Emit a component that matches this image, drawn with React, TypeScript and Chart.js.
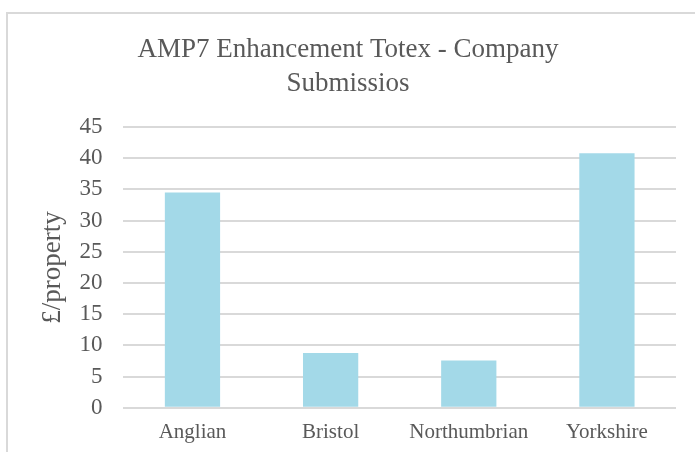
import React, { useEffect, useRef } from "react";
import { Chart, registerables } from "chart.js";

Chart.register(...registerables);

const categories = ["Anglian", "Bristol", "Northumbrian", "Yorkshire"];
const values = [34.5, 8.8, 7.6, 40.8];
const titleLines = ["AMP7 Enhancement Totex - Company", "Submissios"];
const yAxisTitle = "£/property";
const yMin = 0;
const yMax = 45;
const yStep = 5;

const TEXT = "#595959";
const GRID = "#d9d9d9";
const BAR = "rgb(163,217,232)";
const FONT = "'Liberation Serif', 'Times New Roman', serif";

const borderPlugin = {
  id: "outerBorder",
  beforeDraw(chart: any) {
    const ctx = chart.ctx;
    ctx.save();
    ctx.fillStyle = "#ffffff";
    ctx.fillRect(0, 0, chart.width, chart.height);
    ctx.fillStyle = GRID;
    ctx.fillRect(6, 12, chart.width, 2);
    ctx.fillRect(6, 12, 2, chart.height);
    ctx.restore();
  },
};

export default function App() {
  const ref = useRef<HTMLCanvasElement | null>(null);
  useEffect(() => {
    if (!ref.current) return;
    const chart = new Chart(ref.current, {
      type: "bar",
      data: {
        labels: categories,
        datasets: [
          {
            data: values,
            backgroundColor: BAR,
            borderWidth: 0,
            barPercentage: 0.4,
            categoryPercentage: 1,
          },
        ],
      },
      options: {
        animation: false,
        responsive: false,
        devicePixelRatio: 1,
        layout: { padding: { top: 0, left: 20, right: 19, bottom: -5 } },
        plugins: {
          legend: { display: false },
          tooltip: { enabled: false },
          title: {
            display: true,
            text: titleLines,
            color: TEXT,
            font: { family: FONT, size: 27, weight: "normal", lineHeight: 1.26 },
            padding: { top: 33, bottom: 26 },
          },
        },
        scales: {
          x: {
            grid: { display: false, drawTicks: false },
            border: { display: false },
            ticks: {
              color: TEXT,
              font: { family: FONT, size: 21 },
              padding: 12,
              maxRotation: 0,
            },
          },
          y: {
            min: yMin,
            max: yMax,
            grid: { color: GRID, lineWidth: 2, drawTicks: false },
            border: { display: false },
            ticks: {
              stepSize: yStep,
              color: TEXT,
              font: { family: FONT, size: 23 },
              padding: 21,
            },
            title: {
              display: true,
              text: yAxisTitle,
              color: TEXT,
              font: { family: FONT, size: 27 },
              padding: { top: 17, bottom: -11 },
            },
          },
        },
      },
      plugins: [borderPlugin],
    });
    return () => chart.destroy();
  }, []);
  return (
    <div style={{ position: "absolute", left: 0, top: 0, width: 695, height: 452 }}>
      <canvas ref={ref} width={695} height={452} style={{ display: "block" }} />
    </div>
  );
}
